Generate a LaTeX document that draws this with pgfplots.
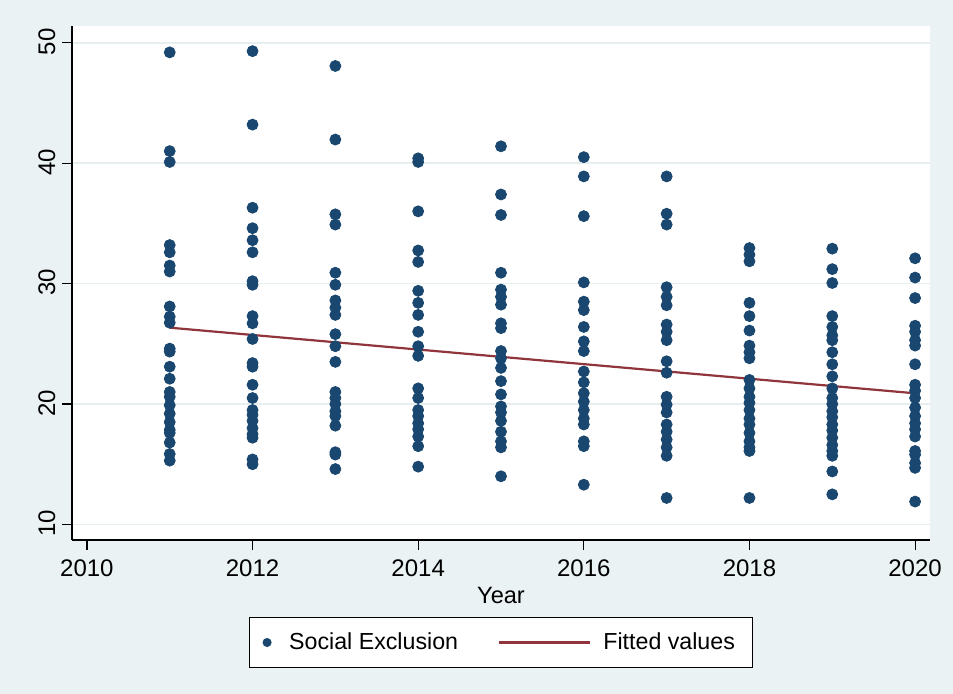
\documentclass[border=0pt]{standalone}
\usepackage{pgfplots}
\pgfplotsset{compat=1.18}
\usepackage{pgfplotstable}
\usepackage{fontspec}
\setmainfont{Liberation Sans}
\definecolor{bgc}{HTML}{EAF2F3}
\definecolor{gridc}{HTML}{E6EEF0}
\definecolor{dotc}{HTML}{1A476F}
\definecolor{linec}{HTML}{90353B}

\pgfplotstableread{
x y
2011 49.2
2011 41.0
2011 40.1
2011 33.2
2011 32.6
2011 31.5
2011 31.0
2011 28.1
2011 27.25
2011 26.75
2011 24.6
2011 24.35
2011 23.1
2011 22.1
2011 21.0
2011 20.6
2011 19.9
2011 19.2
2011 18.5
2011 17.85
2011 17.6
2011 16.8
2011 15.85
2011 15.3
2012 49.3
2012 43.2
2012 36.3
2012 34.6
2012 33.6
2012 32.6
2012 30.2
2012 29.9
2012 27.3
2012 26.7
2012 25.4
2012 23.4
2012 23.1
2012 21.6
2012 20.5
2012 19.5
2012 19.1
2012 18.6
2012 18.0
2012 17.5
2012 17.2
2012 15.4
2012 15.0
2013 48.07
2013 41.96
2013 35.75
2013 34.9
2013 30.9
2013 29.9
2013 28.6
2013 28.0
2013 27.4
2013 25.8
2013 24.8
2013 23.5
2013 21.0
2013 20.5
2013 20.0
2013 19.4
2013 19.0
2013 18.2
2013 16.0
2013 15.8
2013 14.6
2014 40.4
2014 40.1
2014 36.0
2014 32.75
2014 31.8
2014 29.4
2014 28.4
2014 27.4
2014 26.0
2014 24.8
2014 24.0
2014 21.3
2014 20.5
2014 19.5
2014 19.0
2014 18.4
2014 17.9
2014 17.3
2014 16.5
2014 14.8
2015 41.4
2015 37.4
2015 35.7
2015 30.9
2015 29.5
2015 28.9
2015 28.25
2015 26.7
2015 26.3
2015 24.4
2015 23.8
2015 23.0
2015 21.9
2015 20.8
2015 19.8
2015 19.3
2015 18.6
2015 17.7
2015 16.9
2015 16.4
2015 14.0
2016 40.5
2016 38.9
2016 35.6
2016 30.1
2016 28.5
2016 27.8
2016 26.4
2016 25.2
2016 24.4
2016 22.7
2016 21.8
2016 20.9
2016 20.2
2016 19.5
2016 18.8
2016 18.3
2016 16.9
2016 16.5
2016 13.3
2017 38.9
2017 35.8
2017 34.9
2017 29.7
2017 28.9
2017 28.2
2017 26.6
2017 26.0
2017 25.3
2017 23.55
2017 22.6
2017 20.6
2017 19.95
2017 19.3
2017 18.3
2017 17.7
2017 17.05
2017 16.4
2017 15.7
2017 12.2
2018 32.95
2018 32.4
2018 31.85
2018 28.4
2018 27.3
2018 26.1
2018 24.85
2018 24.3
2018 23.8
2018 22.0
2018 21.3
2018 20.6
2018 20.1
2018 19.5
2018 18.8
2018 18.3
2018 17.6
2018 16.9
2018 16.4
2018 16.1
2018 12.2
2019 32.9
2019 31.2
2019 30.05
2019 27.3
2019 26.4
2019 25.7
2019 25.3
2019 24.3
2019 23.3
2019 22.3
2019 21.3
2019 20.5
2019 20.0
2019 19.4
2019 18.9
2019 18.3
2019 17.8
2019 17.2
2019 16.6
2019 16.1
2019 15.7
2019 14.4
2019 12.5
2020 32.1
2020 30.5
2020 28.8
2020 26.5
2020 26.0
2020 25.3
2020 24.85
2020 23.3
2020 21.6
2020 21.1
2020 20.5
2020 19.7
2020 19.0
2020 18.4
2020 17.9
2020 17.3
2020 16.1
2020 15.8
2020 15.1
2020 14.7
2020 11.9
}\socialdata

\pgfplotstableread{
x y
2011 26.34
2020 20.89
}\fitdata

\begin{document}
\begin{tikzpicture}[x=1pt,y=1pt]
\fill[bgc] (0,0) rectangle (476.5,347);
\begin{axis}[
  at={(36pt,77pt)}, anchor=south west,
  scale only axis, width=429pt, height=257pt,
  xmin=2009.82, xmax=2020.18, ymin=8.71, ymax=51.39,
  axis x line*=bottom, axis y line*=left,
  axis line style={black, line width=0.6pt},
  axis background/.style={fill=white},
  xtick={2010,2012,2014,2016,2018,2020},
  ytick={10,20,30,40,50},
  ymajorgrids, major grid style={gridc, line width=0.9pt},
  tick align=outside, major tick length=4.8pt,
  tick style={black, line width=0.6pt},
  /pgf/number format/assume math mode=true,
  /pgf/number format/1000 sep={},
  ticklabel style={font=\fontsize{12}{14}\selectfont},
  xticklabel style={yshift=-1.5pt},
  yticklabel style={rotate=90, anchor=south, xshift=0.5pt},
  xlabel={Year},
  label style={font=\fontsize{11.8}{14}\selectfont},
  xlabel style={yshift=1.5pt},
  legend style={at={(0.5,-0.15)}, anchor=north, draw=black, line width=0.5pt,
    fill=white, legend columns=2, font=\fontsize{11.6}{13}\selectfont,
    inner xsep=7pt, inner ysep=5.5pt,
    /tikz/every even column/.append style={column sep=18pt}},
]
\addplot[only marks, mark=*, mark size=2.75pt, color=dotc, mark options={draw=dotc, fill=dotc},
  legend image code/.code={\path (0cm,0cm) (0.36cm,0cm); \draw[mark=*, mark size=2pt, dotc, mark options={fill=dotc}] plot coordinates {(0.05cm,0cm)};}]
  table[x=x, y=y] {\socialdata};
\addlegendentry{Social Exclusion}
\addplot[linec, line width=1.1pt, no marks,
  legend image code/.code={\path (0cm,0cm) (1.6cm+4pt,0cm); \draw[linec, line width=1.1pt] (0cm,0cm) -- (1.6cm,0cm);}]
  table[x=x, y=y] {\fitdata};
\addlegendentry{Fitted values}
\end{axis}
\end{tikzpicture}
\end{document}
